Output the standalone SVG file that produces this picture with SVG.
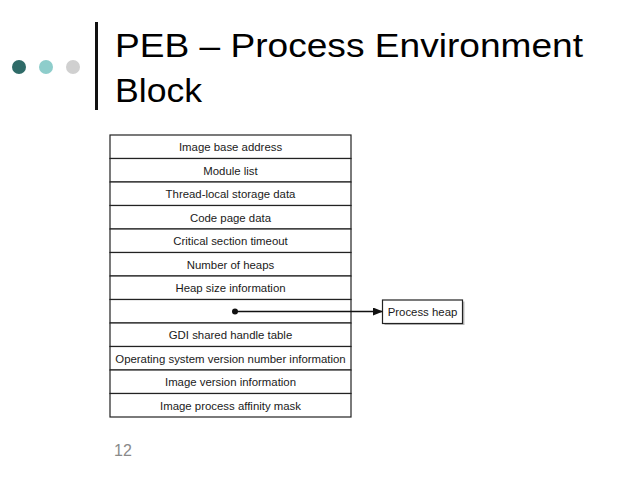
<svg xmlns="http://www.w3.org/2000/svg" width="640" height="480" viewBox="0 0 640 480">
<style>
.t{font-family:"Liberation Sans",Arial,sans-serif;font-size:11.4px;fill:#1a1a1a;text-anchor:middle}
.row{fill:#fff;stroke:#222;stroke-width:1.2}
.title{font-family:"Liberation Sans",Arial,sans-serif;font-size:34px;fill:#000}
</style>
<defs>
<marker id="ah" markerWidth="10" markerHeight="8" refX="9" refY="4" orient="auto" markerUnits="userSpaceOnUse">
<path d="M0,0 L10,4 L0,8 Z" fill="#111"/>
</marker>
</defs>
<rect width="640" height="480" fill="#fff"/>
<g id="header">
<circle cx="19" cy="67" r="7" fill="#2f6b68"/>
<circle cx="46" cy="67" r="7" fill="#8ecdcb"/>
<circle cx="73" cy="67" r="7" fill="#d0d0d0"/>
<rect x="95" y="22" width="3" height="88" fill="#111"/>
<text class="title" x="115" y="57" textLength="468" lengthAdjust="spacingAndGlyphs">PEB – Process Environment</text>
<text class="title" x="115" y="101.5" textLength="87" lengthAdjust="spacingAndGlyphs">Block</text>
</g>
<g id="peb">
<rect class="row" x="110" y="135" width="241" height="23.5"/>
<rect class="row" x="110" y="158.5" width="241" height="23.5"/>
<rect class="row" x="110" y="182" width="241" height="23.5"/>
<rect class="row" x="110" y="205.5" width="241" height="23.5"/>
<rect class="row" x="110" y="229" width="241" height="23.5"/>
<rect class="row" x="110" y="252.5" width="241" height="23.5"/>
<rect class="row" x="110" y="276" width="241" height="23.5"/>
<rect class="row" x="110" y="299.5" width="241" height="23.5"/>
<rect class="row" x="110" y="323" width="241" height="23.5"/>
<rect class="row" x="110" y="346.5" width="241" height="23.5"/>
<rect class="row" x="110" y="370" width="241" height="23.5"/>
<rect class="row" x="110" y="393.5" width="241" height="23.5"/>
<text class="t" x="230.5" y="151.3">Image base address</text>
<text class="t" x="230.5" y="174.8">Module list</text>
<text class="t" x="230.5" y="198.3">Thread-local storage data</text>
<text class="t" x="230.5" y="221.8">Code page data</text>
<text class="t" x="230.5" y="245.3">Critical section timeout</text>
<text class="t" x="230.5" y="268.8">Number of heaps</text>
<text class="t" x="230.5" y="292.3">Heap size information</text>
<text class="t" x="230.5" y="339.3">GDI shared handle table</text>
<text class="t" x="230.5" y="362.8">Operating system version number information</text>
<text class="t" x="230.5" y="386.3">Image version information</text>
<text class="t" x="230.5" y="409.8">Image process affinity mask</text>
</g>
<g id="process-heap">
<rect x="384.5" y="301.5" width="80" height="23.5" fill="#bbb"/>
<rect x="382.5" y="300" width="80" height="23.5" fill="#fff" stroke="#222" stroke-width="1.2"/>
<text class="t" x="422.5" y="316">Process heap</text>
</g>
<g id="connectors">
<circle cx="235" cy="311.5" r="3" fill="#111"/>
<line x1="235" y1="311.5" x2="382" y2="311.5" stroke="#111" stroke-width="1.5" marker-end="url(#ah)"/>
</g>
<text x="114" y="456" font-family="Liberation Sans,Arial,sans-serif" font-size="16" fill="#8a8a8a">12</text>
</svg>
